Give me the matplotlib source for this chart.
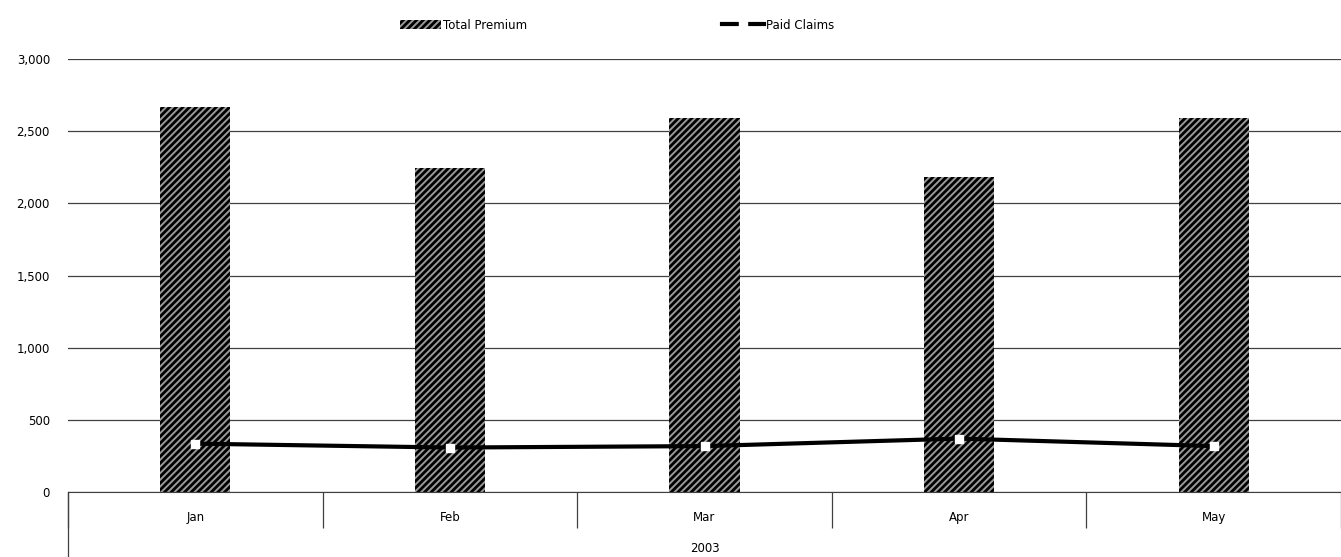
import matplotlib.pyplot as plt
import matplotlib.transforms as mtransforms
import numpy as np

months = ["Jan", "Feb", "Mar", "Apr", "May"]
year_label = "2003"
total_premium = [2670, 2245, 2590, 2180, 2590]
paid_claims = [335, 308, 318, 370, 318]
y_ticks = [0, 500, 1000, 1500, 2000, 2500, 3000]

plt.rcParams['font.family'] = ['Tahoma', 'DejaVu Sans']
plt.rcParams['hatch.linewidth'] = 1.4

fig = plt.figure(figsize=(13.41, 5.57), dpi=100)
ax = fig.add_axes([68 / 1341, 65 / 557, 1 - 68 / 1341, 433 / 557])

x = np.arange(len(months))
bars = ax.bar(x, total_premium, width=0.275, color='black', edgecolor='#999999',
              hatch='/////', linewidth=0, label='Total Premium', zorder=2)
line, = ax.plot(x, paid_claims, color='black', linewidth=3, marker='s', markersize=6,
                markerfacecolor='white', markeredgecolor='white', label='Paid Claims', zorder=3)

ax.set_xlim(-0.5, len(months) - 0.5)
ax.set_ylim(0, 3000)
ax.set_yticks(y_ticks)
ax.set_yticklabels([f"{v:,}" for v in y_ticks], fontsize=8.5)
ax.tick_params(axis='y', length=0, pad=13)
ax.grid(axis='y', color='#404040', linewidth=0.9, zorder=0)

for s in ['top', 'right', 'left']:
    ax.spines[s].set_visible(False)
ax.spines['bottom'].set_color('#404040')

# category axis: boundary ticks and labels
ax.set_xticks(np.arange(len(months) + 1) - 0.5)
ax.set_xticklabels([])
ax.tick_params(axis='x', which='major', length=26, color='#404040', width=0.9)
ax.set_xticks(x, minor=True)
ax.set_xticklabels(months, minor=True, fontsize=8.5)
ax.tick_params(axis='x', which='minor', length=0, pad=14)

trans = mtransforms.blended_transform_factory(ax.transData, ax.transAxes)
ax.plot([-0.5, -0.5], [0, -65 / 433], transform=trans, color='#404040',
        linewidth=0.9, clip_on=False)
ax.text(x.mean(), -56 / 433, year_label, transform=trans, ha='center',
        va='center', fontsize=8.5)

fig.legend([bars, line], ['Total Premium', 'Paid Claims'], loc='center',
           bbox_to_anchor=(0.46, 0.955), ncol=2, frameon=False,
           fontsize=8.5, columnspacing=16.5, handlelength=3.5, handletextpad=0.2)

fig.savefig("out.png", dpi=100)
